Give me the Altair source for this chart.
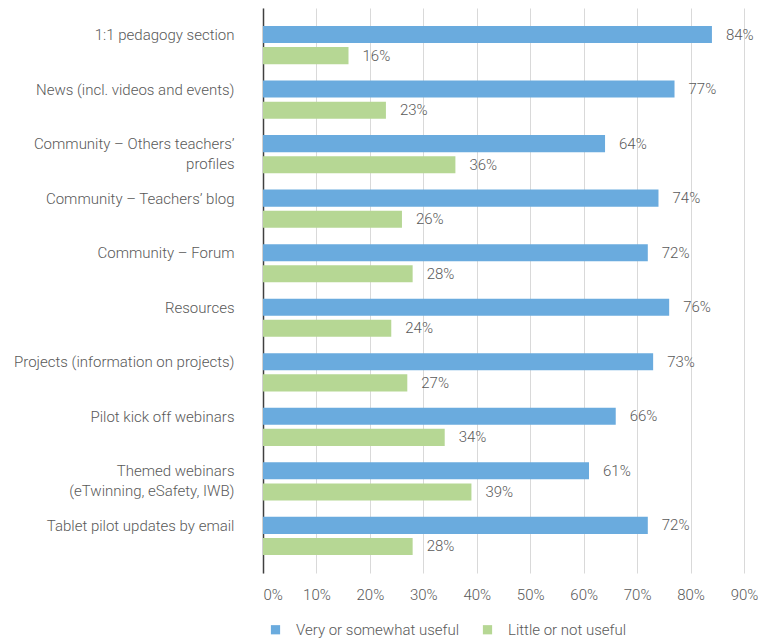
import altair as alt
import pandas as pd

categories = [
    "1:1 pedagogy section",
    "News (incl. videos and events)",
    "Community – Others teachers’|profiles",
    "Community – Teachers’ blog",
    "Community – Forum",
    "Resources",
    "Projects (information on projects)",
    "Pilot kick off webinars",
    "Themed webinars|(eTwinning, eSafety, IWB)",
    "Tablet pilot updates by email",
]
series = ["Very or somewhat useful", "Little or not useful"]
useful = [84, 77, 64, 74, 72, 76, 73, 66, 61, 72]
not_useful = [16, 23, 36, 26, 28, 24, 27, 34, 39, 28]
colors = ["#6aabde", "#b6d794"]
x_ticks = [0, 10, 20, 30, 40, 50, 60, 70, 80, 90]

rows = []
for c, u, n in zip(categories, useful, not_useful):
    rows.append({"category": c, "series": series[0], "value": u, "label": f"{u}%"})
    rows.append({"category": c, "series": series[1], "value": n, "label": f"{n}%"})
df = pd.DataFrame(rows)

FONT = "Roboto"
GRAY = "#595959"
W = 300

y_enc = alt.Y(
    "category:N",
    sort=categories,
    scale=alt.Scale(paddingInner=0.30, paddingOuter=0.33),
    axis=alt.Axis(
        title=None,
        ticks=False,
        labelExpr="split(datum.label, '|')",
        labelFontSize=15,
        labelFontWeight=W,
        labelColor=GRAY,
        labelPadding=29,
        labelOffset=-10,
        labelLimit=400,
        labelLineHeight=20,
        domainColor="#404040",
        domainWidth=1.5,
        grid=False,
    ),
)
x_enc = alt.X(
    "value:Q",
    scale=alt.Scale(domain=[0, 90], nice=False),
    axis=alt.Axis(
        title=None,
        values=x_ticks,
        labelExpr="datum.value + '%'",
        labelFlush=False,
        labelAlign=alt.condition("datum.value == 0", alt.value("left"), alt.value("center")),
        domain=False,
        ticks=False,
        grid=True,
        gridColor="#d9d9d9",
        gridWidth=1,
        labelFontSize=15,
        labelFontWeight=W,
        labelColor=GRAY,
        labelPadding=14,
    ),
)
yoff = alt.YOffset(
    "series:N",
    sort=series,
    scale=alt.Scale(paddingInner=0.19, paddingOuter=0),
)
color = alt.Color(
    "series:N",
    sort=series,
    scale=alt.Scale(domain=series, range=colors),
    legend=alt.Legend(
        title=None,
        orient="none",
        legendX=5,
        legendY=614,
        direction="horizontal",
        symbolType="square",
        symbolSize=85,
        symbolStrokeWidth=0,
        labelFontSize=15,
        labelFontWeight=W,
        labelColor=GRAY,
        labelOffset=13,
        labelLimit=300,
        columnPadding=20,
        gridAlign="all",
    ),
)

base = alt.Chart(df)
bars = base.mark_bar().encode(y=y_enc, x=x_enc, yOffset=yoff, color=color)
texts = base.mark_text(
    align="left", baseline="middle", dx=14, fontSize=15, fontWeight=W, color=GRAY, font=FONT
).encode(y=alt.Y("category:N", sort=categories), x="value:Q", yOffset=yoff, text="label:N")

chart = (
    alt.layer(bars, texts)
    .properties(
        width=481,
        height=565,
        autosize=alt.AutoSizeParams(type="none"),
        padding={"left": 255, "top": 0, "right": 14, "bottom": 68},
    )
    .configure(font=FONT)
    .configure_view(stroke=None)
)
chart.save("out.html", embed_options={"renderer": "svg", "actions": False})
